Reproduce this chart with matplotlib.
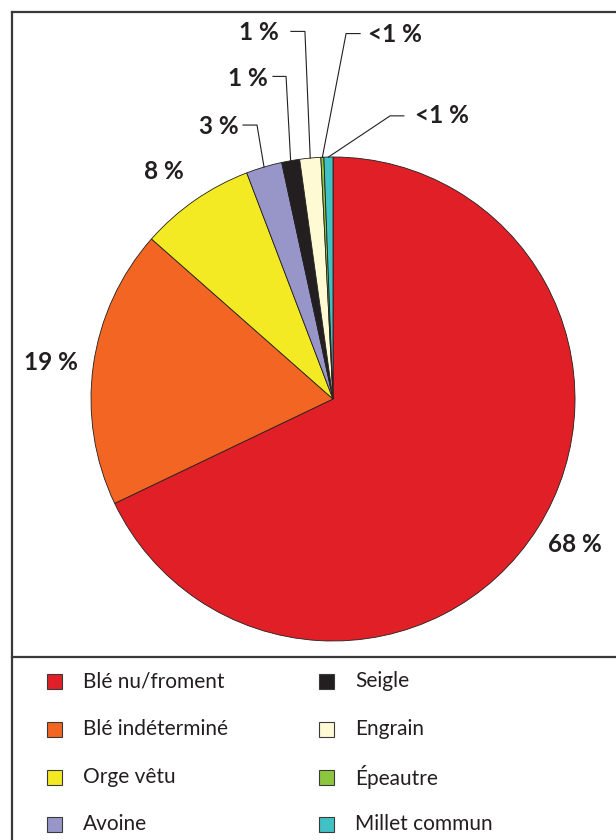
import numpy as np
import matplotlib
matplotlib.use('Agg')
import matplotlib.pyplot as plt
from matplotlib.patches import Rectangle
from matplotlib.lines import Line2D

plt.rcParams['font.family'] = ['Lato', 'DejaVu Sans']

# Data
categories = ['Blé nu/froment', 'Blé indéterminé', 'Orge vêtu', 'Avoine',
              'Seigle', 'Engrain', 'Épeautre', 'Millet commun']
shares = [67.9, 18.6, 7.7, 2.4, 1.2, 1.4, 0.2, 0.6]
pct_labels = ['68 %', '19 %', '8 %', '3 %', '1 %', '1 %', '<1 %', '<1 %']
colors = ['#E11F26', '#F26522', '#F3EA23', '#9896C8', '#231F20',
          '#FEFAD4', '#8CC63F', '#40C1C3']

W, H = 616, 840
fig = plt.figure(figsize=(W / 100, H / 100), dpi=100)

# pie axes sized to the circle (center 333,399 px, radius 242 px)
cx, cy, r = 333, 399, 242
ax = fig.add_axes([(cx - r) / W, (H - cy - r) / H, 2 * r / W, 2 * r / H])
wedges, _ = ax.pie(shares, colors=colors, startangle=90, counterclock=False,
                   wedgeprops=dict(edgecolor='#231F20', linewidth=0.6))
ax.set_xlim(-1, 1)
ax.set_ylim(-1, 1)
ax.set_aspect('equal')
ax.axis('off')

txt = dict(fontsize=17.5, fontweight='bold', color='#231F20', va='center')

# big slices: plain labels
ax.text(1.0, -0.60, pct_labels[0], ha='center', **txt)
ax.text(-1.165, 0.15, pct_labels[1], ha='center', **txt)
ax.text(-0.70, 0.94, pct_labels[2], ha='center', **txt)

# small slices: labels with leader lines
# (text x, text y, ha, line start, corner)
leaders = {
    3: (-0.39, 1.125, 'right', (-0.372, 1.132), (-0.314, 1.132)),
    4: (-0.27, 1.325, 'right', (-0.248, 1.333), (-0.194, 1.333)),
    5: (-0.225, 1.515, 'right', (-0.174, 1.519), (-0.116, 1.519)),
    6: (0.145, 1.505, 'left', (0.112, 1.510), (0.054, 1.510)),
    7: (0.34, 1.170, 'left', (0.293, 1.170), (0.236, 1.170)),
}
for i, (tx, ty, ha, p0, p1) in leaders.items():
    w = wedges[i]
    mid = np.deg2rad((w.theta1 + w.theta2) / 2)
    px, py = np.cos(mid), np.sin(mid)
    ax.plot([p0[0], p1[0], px], [p0[1], p1[1], py], color='#231F20',
            lw=0.8, clip_on=False)
    ax.text(tx, ty, pct_labels[i], ha=ha, clip_on=False, **txt)

# frame and separator
frame_kw = dict(color='#3a3a3a', lw=1.6, transform=fig.transFigure)
fig.add_artist(Line2D([12 / W, 12 / W], [0, 1 - 12 / H], **frame_kw))
fig.add_artist(Line2D([12 / W, 1], [1 - 12 / H, 1 - 12 / H], **frame_kw))
fig.add_artist(Line2D([12 / W, 1], [1 - 657 / H, 1 - 657 / H], **frame_kw))

# legend, two columns of four
row_y = [681, 729, 777, 824]
col_x = [47, 319]
for k, (name, col) in enumerate(zip(categories, colors)):
    x0 = col_x[k // 4]
    y0 = row_y[k % 4]
    fig.add_artist(Rectangle((x0 / W, 1 - (y0 + 7.5) / H), 15 / W, 15 / H,
                             facecolor=col, edgecolor='#3a3a3a', lw=0.8,
                             transform=fig.transFigure))
    fig.text((x0 + 36) / W, 1 - y0 / H, name, fontsize=15, color='#231F20',
             va='center', ha='left')

fig.savefig('out.png', dpi=100)
